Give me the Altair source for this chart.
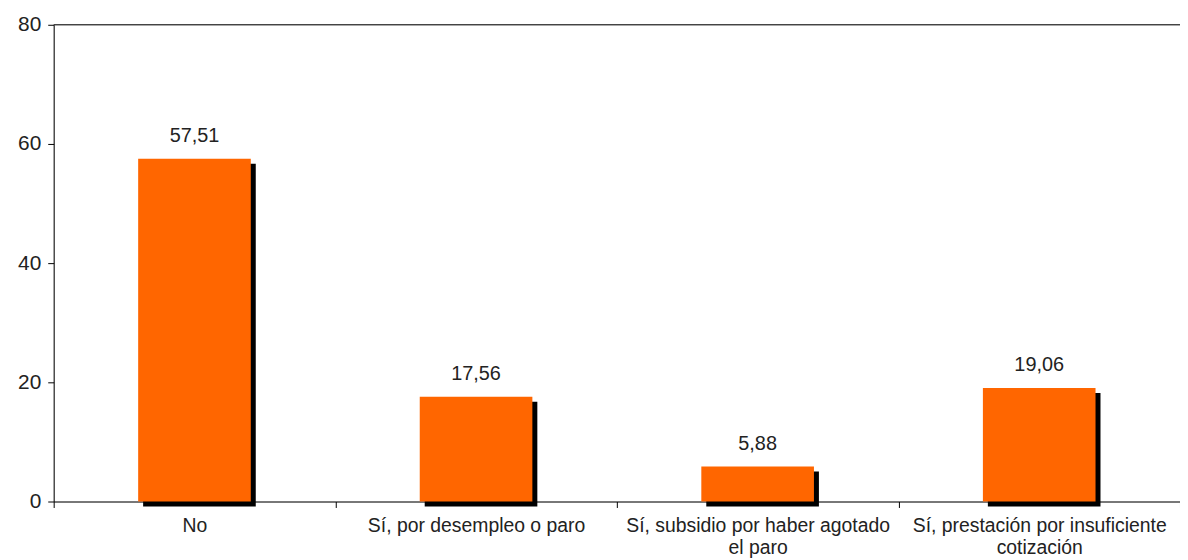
import altair as alt
import pandas as pd

categories = ["No", "Sí, por desempleo o paro", "Sí, subsidio por haber agotado el paro",
              "Sí, prestación por insuficiente cotización"]
values = [57.51, 17.56, 5.88, 19.06]
value_labels = ["57,51", "17,56", "5,88", "19,06"]
label_lines = [["No"], ["Sí, por desempleo o paro"], ["Sí, subsidio por haber agotado", "el paro"],
               ["Sí, prestación por insuficiente", "cotización"]]
y_ticks = [0, 20, 40, 60, 80]

df = pd.DataFrame({"cat": categories, "val": values, "lab": value_labels})

expr = "''"
for c, lines in zip(categories, label_lines):
    arr = "[" + ",".join("'" + l + "'" for l in lines) + "]"
    expr = f"datum.label == '{c}' ? {arr} : ({expr})"

FONT = "Liberation Sans"

x = alt.X("cat:N", sort=categories, title=None,
          axis=alt.Axis(labelAngle=0, labelExpr=expr, labelFontSize=19.5, labelFont=FONT,
                        labelColor="#222222", labelLineHeight=22, labelPadding=9,
                        tickBand="extent", tickSize=6, tickColor="#000000",
                        domainColor="#000000", labelLimit=400),
          scale=alt.Scale(paddingInner=0, paddingOuter=0))
y = alt.Y("val:Q", title=None, scale=alt.Scale(domain=[0, 80]),
          axis=alt.Axis(values=y_ticks, grid=False, labelFontSize=21, labelFont=FONT,
                        labelColor="#222222", tickSize=6, labelPadding=7,
                        tickColor="#000000", domainColor="#000000"))

base = alt.Chart(df)
shadow = base.mark_bar(color="#000000", width=alt.RelativeBandSize(0.4),
                       xOffset=5, x2Offset=5, yOffset=5, y2Offset=3).encode(x=x, y=y)
bars = base.mark_bar(color="#FF6600", width=alt.RelativeBandSize(0.4)).encode(x=x, y=y)
text = base.mark_text(dy=-23, fontSize=20, font=FONT, color="#222222").encode(
    x=x, y=y, text="lab:N")
top = alt.Chart(pd.DataFrame({"t": [80]})).mark_rule(color="#000000", strokeWidth=1).encode(
    y=alt.Y("t:Q", scale=alt.Scale(domain=[0, 80])))

chart = alt.layer(shadow, bars, text, top).properties(
    width=1134, height=480,
    autosize=alt.AutoSizeParams(type="none"),
    padding={"left": 46, "top": 15, "right": 0, "bottom": 57},
).configure_view(stroke=None).configure(background="#ffffff")

chart.save("out.html", embed_options={"renderer": "svg", "actions": False})
